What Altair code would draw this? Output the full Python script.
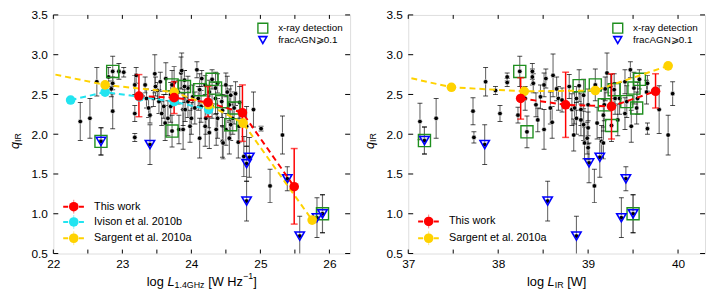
import altair as alt
import pandas as pd

# ---------------- data: left panel (log L1.4GHz) ----------------
L_x = [22.39, 22.53, 22.63, 22.80, 22.84, 22.86, 22.86, 22.95, 23.02, 23.18, 23.18, 23.18, 23.20,
       23.33, 23.35, 23.38, 23.40, 23.45, 23.47, 23.48, 23.51, 23.53, 23.55, 23.57, 23.60, 23.62,
       23.63, 23.66, 23.70, 23.70, 23.75, 23.81, 23.82, 23.85, 23.86, 23.88, 23.88, 23.90, 23.91,
       23.95, 23.95, 23.98, 24.00, 24.02, 24.05, 24.08, 24.10, 24.12, 24.14, 24.15, 24.20, 24.20,
       24.21, 24.25, 24.26, 24.26, 24.30, 24.35, 24.36, 24.38, 24.38, 24.45, 24.45, 24.46, 24.50,
       24.50, 24.52, 24.55, 24.55, 24.57, 24.60, 24.64, 24.68, 24.69, 24.70, 24.76, 24.80, 24.90,
       25.01, 25.14, 25.32]
L_q = [2.16, 2.20, 2.66, 2.72, 2.57, 2.64, 2.29, 2.79, 2.78, 2.62, 2.26, 1.96, 2.74,
       2.62, 2.45, 2.33, 2.24, 2.45, 2.76, 2.60, 2.55, 2.41, 2.66, 2.26, 2.35, 2.14,
       2.70, 2.20, 2.50, 2.35, 2.65, 2.53, 2.06, 2.77, 2.80, 2.31, 2.06, 2.68, 2.31,
       2.41, 2.58, 2.10, 2.20, 2.47, 2.33, 2.81, 2.45, 1.95, 2.35, 2.70, 2.62, 2.10,
       2.20, 2.28, 2.53, 2.02, 2.35, 2.45, 2.06, 2.20, 2.64, 2.30, 1.91, 1.89, 2.62,
       2.06, 2.53, 2.37, 1.95, 2.49, 2.20, 2.51, 1.90, 2.10, 2.40, 1.72, 2.10, 2.31,
       2.07, 1.35, 1.99]
L_e = [0.24, 0.25, 0.18, 0.12, 0.10, 0.08, 0.22, 0.10, 0.06, 0.12, 0.10, 0.05, 0.10,
       0.10, 0.12, 0.12, 0.10, 0.10, 0.24, 0.12, 0.10, 0.15, 0.12, 0.15, 0.15, 0.22,
       0.20, 0.22, 0.15, 0.20, 0.20, 0.15, 0.18, 0.20, 0.22, 0.20, 0.25, 0.12, 0.15,
       0.20, 0.15, 0.20, 0.20, 0.15, 0.20, 0.10, 0.15, 0.25, 0.20, 0.10, 0.12, 0.25,
       0.20, 0.20, 0.15, 0.20, 0.15, 0.20, 0.20, 0.25, 0.12, 0.20, 0.20, 0.20, 0.15,
       0.20, 0.20, 0.20, 0.20, 0.12, 0.20, 0.15, 0.20, 0.20, 0.20, 0.25, 0.25, 0.22,
       0.03, 0.21, 0.24]

L_xray_x = [22.69, 22.86, 23.72, 23.72, 23.90, 24.12, 24.30, 24.35, 24.44, 24.62, 24.57, 25.90]
L_xray_q = [1.91, 2.79, 2.04, 2.62, 2.60, 2.56, 2.69, 2.58, 2.41, 2.33, 2.12, 1.00]
L_xray_e = [0.17, 0.19, 0.20, 0.18, 0.20, 0.20, 0.12, 0.20, 0.20, 0.20, 0.20, 0.24]

L_agn_x = [22.69, 23.40, 24.80, 24.84, 24.80, 25.39, 25.57, 25.82, 25.90]
L_agn_q = [1.91, 1.87, 1.63, 1.71, 1.16, 1.44, 0.72, 0.95, 1.00]
L_agn_e = [0.17, 0.25, 0.22, 0.25, 0.25, 0.15, 0.25, 0.25, 0.24]

L_red_x = [23.24, 23.75, 24.24, 24.74, 25.49]
L_red_q = [2.48, 2.46, 2.40, 2.27, 1.34]
L_red_lo = [2.22, 2.26, 2.22, 1.91, 0.87]
L_red_hi = [2.75, 2.66, 2.60, 2.62, 1.82]

L_cyan_x = [22.25, 22.75, 23.25, 23.75, 24.25]
L_cyan_q = [2.43, 2.53, 2.47, 2.41, 2.31]

L_gold_x = [21.75, 22.75, 23.75, 24.25, 24.75, 25.75]
L_gold_q = [2.80, 2.62, 2.53, 2.37, 2.14, 0.92]

# ---------------- data: right panel (log LIR) ----------------
R_x = [37.13, 37.31, 37.72, 37.73, 37.86, 37.97, 38.02, 38.10, 38.10, 38.22, 38.30, 38.38, 38.38,
       38.39, 38.42, 38.44, 38.47, 38.51, 38.51, 38.53, 38.58, 38.60, 38.61, 38.65, 38.67, 38.71,
       38.79, 38.82, 38.84, 38.85, 38.87, 38.87, 38.92, 38.92, 38.95, 38.95, 38.96, 38.99, 39.00,
       39.00, 39.00, 39.07, 39.10, 39.15, 39.17, 39.17, 39.19, 39.21, 39.25, 39.30, 39.33, 39.35,
       39.41, 39.41, 39.47, 39.48, 39.55, 39.65, 39.66, 39.66, 39.79, 39.89, 39.94]
R_q = [2.16, 2.20, 2.29, 1.96, 2.66, 2.55, 2.26, 2.72, 2.65, 2.24, 2.45, 2.79, 2.72,
       2.64, 2.37, 2.18, 2.47, 2.06, 2.62, 2.70, 2.33, 2.15, 2.74, 2.57, 2.45, 2.43,
       2.60, 2.31, 1.99, 2.33, 2.20, 2.45, 2.18, 2.31, 2.12, 2.49, 1.89, 1.95, 2.08,
       1.83, 2.37, 1.35, 2.14, 1.91, 2.24, 1.89, 2.57, 2.77, 2.60, 2.45, 2.18, 2.45,
       2.26, 2.66, 2.81, 2.10, 2.45, 2.53, 2.64, 2.07, 2.31, 1.99, 2.51]
R_e = [0.23, 0.25, 0.17, 0.07, 0.18, 0.05, 0.10, 0.05, 0.05, 0.10, 0.15, 0.10, 0.10,
       0.12, 0.15, 0.15, 0.15, 0.25, 0.15, 0.12, 0.20, 0.20, 0.27, 0.15, 0.15, 0.15,
       0.15, 0.20, 0.20, 0.20, 0.20, 0.15, 0.20, 0.20, 0.20, 0.20, 0.20, 0.20, 0.20,
       0.15, 0.20, 0.21, 0.20, 0.20, 0.20, 0.20, 0.15, 0.25, 0.15, 0.20, 0.20, 0.20,
       0.20, 0.15, 0.10, 0.20, 0.20, 0.15, 0.10, 0.07, 0.30, 0.25, 0.15]

R_xray_x = [37.18, 38.24, 38.32, 38.90, 39.08, 39.18, 39.26, 39.29, 39.43, 39.54, 39.51, 39.57, 39.50]
R_xray_q = [1.92, 2.79, 2.03, 2.61, 2.62, 2.37, 2.11, 2.56, 2.41, 2.33, 2.58, 2.69, 1.00]
R_xray_e = [0.17, 0.19, 0.20, 0.20, 0.20, 0.20, 0.20, 0.20, 0.20, 0.20, 0.20, 0.12, 0.24]

R_agn_x = [37.18, 37.85, 38.55, 38.87, 39.01, 39.13, 39.42, 39.37, 39.50]
R_agn_q = [1.92, 1.87, 1.16, 0.72, 1.64, 1.71, 1.44, 0.95, 1.00]
R_agn_e = [0.17, 0.25, 0.25, 0.25, 0.25, 0.25, 0.15, 0.25, 0.24]

R_red_x = [38.25, 38.75, 39.26, 39.75]
R_red_q = [2.45, 2.37, 2.35, 2.54]
R_red_lo = [2.19, 1.96, 1.94, 2.33]
R_red_hi = [2.71, 2.78, 2.76, 2.76]

R_gold_x = [36.50, 37.48, 38.29, 39.08, 39.89]
R_gold_q = [2.84, 2.59, 2.54, 2.55, 2.86]

Y_TICKS = [0.5, 1.0, 1.5, 2.0, 2.5, 3.0, 3.5]
L_XMAJ = [22, 23, 24, 25, 26]
L_XMIN = [22.5, 23.5, 24.5, 25.5]
R_XMAJ = [37, 38, 39, 40]
R_XMIN = [37.5, 38.5, 39.5]

# ---------------- styling ----------------
FONT = "Liberation Sans"
W, H = 301, 242
GREEN = "#1f8f1f"
BLUE = "#0000ff"
RED = "#ff0000"
CYAN = "#22e4f0"
GOLD = "#ffd200"
ONE = pd.DataFrame({"a": [0]})

ARIAL = {' ': 278, 'l': 222, 'o': 556, 'g': 556, 'L': 556, '1': 556, '.': 278, '4': 556,
         'G': 778, 'H': 722, 'z': 500, '[': 278, 'W': 944, ']': 278, '−': 584, 'I': 278,
         'R': 722, 'q': 556}


def tw(s, size):
    return sum(ARIAL.get(c, 556) for c in s) * size / 1000.0


def txt(s, x, y, size=12, style="normal", angle=0, align="left", baseline="alphabetic", color="black"):
    return alt.Chart(ONE).mark_text(text=s, font=FONT, fontSize=size, fontStyle=style, angle=angle,
                                    align=align, baseline=baseline, color=color).encode(
        x=alt.value(x), y=alt.value(y))


def err_df(xs, qs, es):
    return pd.DataFrame({"x": xs, "q": qs,
                         "lo": [q - e for q, e in zip(qs, es)],
                         "hi": [q + e for q, e in zip(qs, es)]})


def panel(xdom, xmaj, xmin, black, xray, agn, red, series, title_pieces, bottom_legend):
    xsc = alt.Scale(domain=xdom, nice=False, zero=False)
    ysc = alt.Scale(domain=[0.5, 3.5], nice=False, zero=False)
    xax = alt.Axis(values=xmaj, format="d", ticks=False, domain=False, grid=False, title=None,
                   labelFont=FONT, labelFontSize=12, labelColor="black", labelPadding=5,
                   labelFlush=False)
    yax = alt.Axis(values=Y_TICKS, format=".1f", ticks=False, domain=False, grid=False, title=None,
                   labelFont=FONT, labelFontSize=12, labelColor="black", labelPadding=6)

    def X(f):
        return alt.X(f, type="quantitative", scale=xsc, axis=xax)

    def Y(f):
        return alt.Y(f, type="quantitative", scale=ysc, axis=yax)

    layers = []
    # inward ticks
    xt = pd.DataFrame({"t": xmaj + xmin})
    yt = pd.DataFrame({"t": Y_TICKS})
    layers.append(alt.Chart(xt).mark_rule(color="black", strokeWidth=1).encode(
        x=X("t"), y=alt.value(H), y2=alt.value(H - 4)))
    layers.append(alt.Chart(xt).mark_rule(color="black", strokeWidth=1).encode(
        x=X("t"), y=alt.value(0), y2=alt.value(4)))
    layers.append(alt.Chart(yt).mark_rule(color="black", strokeWidth=1).encode(
        y=Y("t"), x=alt.value(0), x2=alt.value(5)))
    layers.append(alt.Chart(yt).mark_rule(color="black", strokeWidth=1).encode(
        y=Y("t"), x=alt.value(W), x2=alt.value(W - 5)))

    alld = pd.concat([black, xray, agn], ignore_index=True)
    layers.append(alt.Chart(alld).mark_rule(color="#6a6a6a", strokeWidth=1.1, clip=True).encode(
        x=X("x"), y=Y("lo"), y2="hi"))
    for f in ["lo", "hi"]:
        layers.append(alt.Chart(alld).mark_tick(orient="horizontal", color="black", size=5,
                                                thickness=1, clip=True).encode(x=X("x"), y=Y(f)))
    layers.append(alt.Chart(alld).mark_circle(size=22, color="black", opacity=1, stroke="white",
                                              strokeWidth=0.6).encode(x=X("x"), y=Y("q")))
    layers.append(alt.Chart(xray).mark_point(shape="square", size=150, filled=False, color=GREEN,
                                             strokeWidth=1.4, opacity=1).encode(x=X("x"), y=Y("q")))
    layers.append(alt.Chart(agn).mark_point(shape="triangle-down", size=90, filled=False, color=BLUE,
                                            strokeWidth=1.6, opacity=1).encode(x=X("x"), y=Y("q")))

    names = [s[0] for s in series]
    cols = [s[1] for s in series]
    sd = pd.DataFrame({"x": sum([s[2] for s in series], []),
                       "q": sum([s[3] for s in series], []),
                       "s": sum([[s[0]] * len(s[2]) for s in series], [])})
    cscale = alt.Scale(domain=names, range=cols)
    layers.append(alt.Chart(sd).mark_line(strokeDash=[6, 4], strokeWidth=2, clip=True).encode(
        x=X("x"), y=Y("q"), color=alt.Color("s:N", scale=cscale, legend=None),
        order=alt.Order("x:Q")))
    layers.append(alt.Chart(red).mark_rule(color=RED, strokeWidth=1.5).encode(
        x=X("x"), y=Y("lo"), y2="hi"))
    for f in ["lo", "hi"]:
        layers.append(alt.Chart(red).mark_tick(orient="horizontal", color=RED, size=7,
                                               thickness=1.5).encode(x=X("x"), y=Y(f)))
    layers.append(alt.Chart(sd).mark_circle(size=95, opacity=1, clip=True).encode(
        x=X("x"), y=Y("q"), color=alt.Color("s:N", scale=cscale, legend=None)))

    # top-right legend
    layers.append(alt.Chart(ONE).mark_point(shape="square", size=100, filled=False, color=GREEN,
                                            strokeWidth=1.4, opacity=1).encode(
        x=alt.value(212.5), y=alt.value(13.5)))
    layers.append(alt.Chart(ONE).mark_point(shape="triangle-down", size=65, filled=False, color=BLUE,
                                            strokeWidth=1.6, opacity=1).encode(
        x=alt.value(212.5), y=alt.value(25.5)))
    layers.append(txt("x-ray detection", 228, 13.5, size=10, baseline="middle"))
    layers.append(txt("fracAGN\u2a7e0.1", 228, 25.5, size=10, baseline="middle"))

    # bottom-left legend
    for (label, col, yy) in bottom_legend:
        layers.append(alt.Chart(ONE).mark_rule(color=col, strokeWidth=2, strokeDash=[5, 3]).encode(
            x=alt.value(10), x2=alt.value(32), y=alt.value(yy)))
        layers.append(alt.Chart(ONE).mark_rule(color=col, strokeWidth=1, opacity=0.5).encode(
            x=alt.value(20.7), y=alt.value(yy - 7), y2=alt.value(yy + 7)))
        layers.append(alt.Chart(ONE).mark_circle(size=95, color=col, opacity=1).encode(
            x=alt.value(20.7), y=alt.value(yy)))
        layers.append(txt(label, 41.3, yy, size=11, baseline="middle"))

    # x title built from pieces (subscript / superscript); spaces become offsets
    total = sum(tw(p[0], p[1]) for p in title_pieces)
    cx = W / 2.0 - total / 2.0
    for (s, size, style, dy) in title_pieces:
        lead = len(s) - len(s.lstrip(" "))
        body = s.strip(" ")
        layers.append(txt(body, cx + tw(" " * lead, size), 274.5 + dy, size=size, style=style))
        cx += tw(s, size)

    # y title q_IR (rotated)
    layers.append(txt("q", -35.0, 136, size=13, style="italic", angle=270))
    layers.append(txt("IR", -33.0, 136 - tw("q", 13), size=9, angle=270))

    return alt.layer(*layers).properties(width=W, height=H)


left = panel(
    [22, 26.3], L_XMAJ, L_XMIN,
    err_df(L_x, L_q, L_e), err_df(L_xray_x, L_xray_q, L_xray_e), err_df(L_agn_x, L_agn_q, L_agn_e),
    pd.DataFrame({"x": L_red_x, "q": L_red_q, "lo": L_red_lo, "hi": L_red_hi}),
    [("Ivison et al. 2010b", CYAN, L_cyan_x, L_cyan_q),
     ("Sargent et al. 2010a", GOLD, L_gold_x, L_gold_q),
     ("This work", RED, L_red_x, L_red_q)],
    [("log ", 13, "normal", 0), ("L", 13, "italic", 0), ("1.4GHz", 9, "normal", 2),
     (" [W Hz", 13, "normal", 0), ("\u22121", 9, "normal", -6.5), ("]", 13, "normal", 0)],
    [("This work", RED, 194.5), ("Ivison et al. 2010b", CYAN, 210), ("Sargent et al. 2010a", GOLD, 226.5)],
)

right = panel(
    [37, 40.3], R_XMAJ, R_XMIN,
    err_df(R_x, R_q, R_e), err_df(R_xray_x, R_xray_q, R_xray_e), err_df(R_agn_x, R_agn_q, R_agn_e),
    pd.DataFrame({"x": R_red_x, "q": R_red_q, "lo": R_red_lo, "hi": R_red_hi}),
    [("Sargent et al. 2010a", GOLD, R_gold_x, R_gold_q),
     ("This work", RED, R_red_x, R_red_q)],
    [("log ", 13, "normal", 0), ("L", 13, "italic", 0), ("IR", 9, "normal", 2),
     (" [W]", 13, "normal", 0)],
    [("This work", RED, 209.5), ("Sargent et al. 2010a", GOLD, 226.5)],
)

chart = alt.hconcat(left, right, spacing=59, bounds="flush").properties(
    padding={"left": 0, "top": -2, "right": 0, "bottom": 0}
).configure_view(stroke="black", strokeWidth=1).configure(background="white")

chart.save("out.html", embed_options={"renderer": "svg", "actions": False})
